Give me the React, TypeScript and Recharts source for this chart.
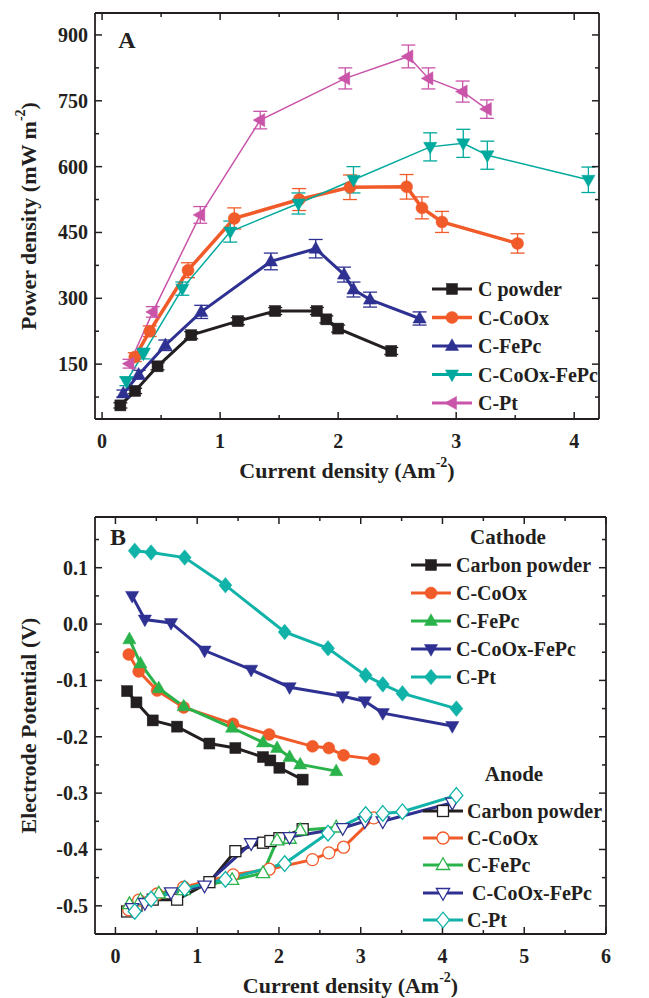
import React from 'react';
import { LineChart, Line, XAxis, YAxis, ErrorBar } from 'recharts';

const FONT = '"Liberation Serif", "Times New Roman", serif';
const INK = '#231f20';

// ---- Panel A: power density vs current density ----
const aPowderX = [0.155, 0.28, 0.47, 0.755, 1.15, 1.467, 1.82, 1.9, 2.0, 2.45];
const aPowderY = [56, 89, 145, 216, 248, 271, 271, 252, 231, 180];
const aPowderE = [6, 6, 8, 8, 8, 8, 8, 8, 8, 8];

const aCoOxX = [0.277, 0.404, 0.728, 1.12, 1.67, 2.1, 2.58, 2.71, 2.88, 3.52];
const aCoOxY = [166, 225, 364, 482, 525, 553, 554, 506, 474, 425];
const aCoOxE = [10, 12, 17, 24, 25, 28, 28, 25, 24, 22];

const aFePcX = [0.18, 0.31, 0.536, 0.84, 1.43, 1.81, 2.05, 2.13, 2.27, 2.69];
const aFePcY = [83, 126, 193, 269, 384, 413, 354, 320, 297, 254];
const aFePcE = [8, 10, 12, 15, 19, 21, 17, 17, 17, 15];

const aMixX = [0.206, 0.35, 0.68, 1.086, 1.664, 2.13, 2.78, 3.06, 3.264, 4.12];
const aMixY = [111, 174, 322, 452, 516, 570, 645, 653, 626, 570];
const aMixE = [10, 12, 15, 24, 24, 30, 32, 32, 32, 29];

const aPtX = [0.232, 0.43, 0.832, 1.34, 2.06, 2.595, 2.765, 3.055, 3.26];
const aPtY = [151, 269, 490, 706, 801, 851, 801, 771, 731];
const aPtE = [10, 12, 19, 20, 24, 26, 24, 24, 21];

const aXTicks = [0, 0.5, 1, 1.5, 2, 2.5, 3, 3.5, 4];
const aXMajor = [0, 1, 2, 3, 4];
const aYTicks = [75, 150, 225, 300, 375, 450, 525, 600, 675, 750, 825, 900];
const aYMajor = [150, 300, 450, 600, 750, 900];

// ---- Panel B: electrode potentials ----
const bPowderX = [0.143, 0.257, 0.456, 0.754, 1.149, 1.467, 1.805, 1.895, 2.005, 2.29];
const bPowderCat = [-0.119, -0.139, -0.171, -0.182, -0.212, -0.22, -0.236, -0.242, -0.255, -0.276];
const bPowderAn = [-0.51, -0.5, -0.489, -0.489, -0.458, -0.403, -0.388, -0.385, -0.38, -0.364];

const bCoOxX = [0.163, 0.285, 0.51, 0.835, 1.439, 1.88, 2.41, 2.61, 2.79, 3.16];
const bCoOxCat = [-0.054, -0.084, -0.118, -0.148, -0.177, -0.196, -0.217, -0.22, -0.233, -0.24];
const bCoOxAn = [-0.507, -0.49, -0.479, -0.467, -0.445, -0.435, -0.418, -0.406, -0.396, -0.344];

const bFePcX = [0.171, 0.306, 0.53, 0.835, 1.427, 1.805, 1.977, 2.13, 2.26, 2.7];
const bFePcCat = [-0.027, -0.07, -0.114, -0.146, -0.184, -0.21, -0.22, -0.236, -0.249, -0.261];
const bFePcAn = [-0.497, -0.49, -0.478, -0.472, -0.454, -0.442, -0.384, -0.381, -0.366, -0.361];

const bMixX = [0.204, 0.36, 0.68, 1.09, 1.66, 2.13, 2.78, 3.05, 3.27, 4.12];
const bMixCat = [0.05, 0.008, 0.002, -0.047, -0.081, -0.112, -0.128, -0.137, -0.158, -0.181];
const bMixAn = [-0.504, -0.495, -0.476, -0.464, -0.389, -0.378, -0.362, -0.35, -0.35, -0.317];

const bPtX = [0.236, 0.436, 0.847, 1.345, 2.07, 2.6, 3.06, 3.27, 3.51, 4.17];
const bPtCat = [0.13, 0.127, 0.118, 0.069, -0.014, -0.043, -0.091, -0.107, -0.123, -0.15];
const bPtAn = [-0.51, -0.488, -0.469, -0.453, -0.425, -0.371, -0.338, -0.336, -0.333, -0.304];

const bXTicks = [0, 0.5, 1, 1.5, 2, 2.5, 3, 3.5, 4, 4.5, 5, 5.5, 6];
const bXMajor = [0, 1, 2, 3, 4, 5, 6];
const bYTicks = [-0.5, -0.45, -0.4, -0.35, -0.3, -0.25, -0.2, -0.15, -0.1, -0.05, 0, 0.05, 0.1, 0.15];
const bYMajor = [-0.5, -0.4, -0.3, -0.2, -0.1, 0, 0.1];

const legendA = ['C powder', 'C-CoOx', 'C-FePc', 'C-CoOx-FePc', 'C-Pt'];
const legendCat = ['Carbon powder', 'C-CoOx', 'C-FePc', 'C-CoOx-FePc', 'C-Pt'];
const legendAn = ['Carbon powder', 'C-CoOx', 'C-FePc', ' C-CoOx-FePc', 'C-Pt'];

const pts = (xs: number[], ys: number[], es?: number[]) =>
  xs.map((x, i) => ({ x, y: ys[i], e: es ? es[i] : 0 }));

type Shape = 'square' | 'circle' | 'up' | 'down' | 'left' | 'diamond';

function Marker({ cx, cy, shape, size, fill, stroke, sw }: any) {
  if (cx == null || cy == null) return null;
  const r = size / 2;
  const common = { fill, stroke, strokeWidth: sw };
  if (shape === 'square') return <rect x={cx - r} y={cy - r} width={size} height={size} {...common} />;
  if (shape === 'circle') return <circle cx={cx} cy={cy} r={r} {...common} />;
  let p = '';
  if (shape === 'up') p = `${cx},${cy - r * 1.2} ${cx + r * 1.1},${cy + r * 0.75} ${cx - r * 1.1},${cy + r * 0.75}`;
  if (shape === 'down') p = `${cx},${cy + r * 1.2} ${cx + r * 1.1},${cy - r * 0.75} ${cx - r * 1.1},${cy - r * 0.75}`;
  if (shape === 'left') p = `${cx - r * 1.2},${cy} ${cx + r * 0.75},${cy - r * 1.1} ${cx + r * 0.75},${cy + r * 1.1}`;
  if (shape === 'diamond') p = `${cx},${cy - r * 1.2} ${cx + r},${cy} ${cx},${cy + r * 1.2} ${cx - r},${cy}`;
  return <polygon points={p} {...common} />;
}

type Series = {
  id: string;
  data: { x: number; y: number; e: number }[];
  color: string;
  shape: Shape;
  lw: number;
  size: number;
  open?: boolean;
  err?: boolean;
};

const BLACK = INK;
const ORANGE = '#f15a29';
const NAVY = '#2e3192';
const TEAL_A = '#00a99d';
const MAGENTA = '#c954a8';
const GREEN = '#2bb34b';
const TEAL_B = '#11b3a8';

const seriesA: Series[] = [
  { id: 'a1', data: pts(aPowderX, aPowderY, aPowderE), color: BLACK, shape: 'square', lw: 3, size: 11, err: true },
  { id: 'a2', data: pts(aCoOxX, aCoOxY, aCoOxE), color: ORANGE, shape: 'circle', lw: 3.5, size: 12, err: true },
  { id: 'a3', data: pts(aFePcX, aFePcY, aFePcE), color: NAVY, shape: 'up', lw: 3, size: 12, err: true },
  { id: 'a4', data: pts(aMixX, aMixY, aMixE), color: TEAL_A, shape: 'down', lw: 1.5, size: 12, err: true },
  { id: 'a5', data: pts(aPtX, aPtY, aPtE), color: MAGENTA, shape: 'left', lw: 1.5, size: 12, err: true },
];

const seriesB: Series[] = [
  { id: 'b1', data: pts(bPowderX, bPowderCat), color: BLACK, shape: 'square', lw: 3, size: 11 },
  { id: 'b2', data: pts(bCoOxX, bCoOxCat), color: ORANGE, shape: 'circle', lw: 3, size: 12 },
  { id: 'b3', data: pts(bFePcX, bFePcCat), color: GREEN, shape: 'up', lw: 3, size: 12 },
  { id: 'b4', data: pts(bMixX, bMixCat), color: NAVY, shape: 'down', lw: 3, size: 12 },
  { id: 'b5', data: pts(bPtX, bPtCat), color: TEAL_B, shape: 'diamond', lw: 3, size: 13 },
  { id: 'b6', data: pts(bPowderX, bPowderAn), color: BLACK, shape: 'square', lw: 3, size: 11, open: true },
  { id: 'b7', data: pts(bCoOxX, bCoOxAn), color: ORANGE, shape: 'circle', lw: 3, size: 12, open: true },
  { id: 'b8', data: pts(bFePcX, bFePcAn), color: GREEN, shape: 'up', lw: 3, size: 12, open: true },
  { id: 'b9', data: pts(bMixX, bMixAn), color: NAVY, shape: 'down', lw: 3, size: 12, open: true },
  { id: 'b10', data: pts(bPtX, bPtAn), color: TEAL_B, shape: 'diamond', lw: 3, size: 13, open: true },
];

const isMajor = (list: number[], v: number) => list.some((m) => Math.abs(m - v) < 1e-6);

function makeTick(side: 'bottom' | 'top' | 'left' | 'right', majors: number[], fmt?: (v: number) => string) {
  return (props: any) => {
    const { x, y, payload } = props;
    const v = payload.value;
    const major = isMajor(majors, v);
    const len = major ? 7 : 4;
    let line = null;
    let label = null;
    if (side === 'bottom') {
      line = <line x1={x} y1={y} x2={x} y2={y - len} stroke={INK} strokeWidth={1.5} />;
      if (major && fmt)
        label = (
          <text x={x} y={y + 22} textAnchor="middle" dominantBaseline="central" fontFamily={FONT} fontWeight="bold" fontSize={20} fill={INK}>
            {fmt(v)}
          </text>
        );
    } else if (side === 'top') {
      line = <line x1={x} y1={y} x2={x} y2={y + len} stroke={INK} strokeWidth={1.5} />;
    } else if (side === 'left') {
      line = <line x1={x} y1={y} x2={x + len} y2={y} stroke={INK} strokeWidth={1.5} />;
      if (major && fmt)
        label = (
          <text x={x - 7} y={y} textAnchor="end" dominantBaseline="central" fontFamily={FONT} fontWeight="bold" fontSize={20} fill={INK}>
            {fmt(v)}
          </text>
        );
    } else {
      line = <line x1={x} y1={y} x2={x - len} y2={y} stroke={INK} strokeWidth={1.5} />;
    }
    return (
      <g>
        {line}
        {label}
      </g>
    );
  };
}

function XTitle({ viewBox, dy }: any) {
  const cx = viewBox.x + viewBox.width / 2;
  return (
    <text x={cx} y={viewBox.y + dy} textAnchor="middle" dominantBaseline="central" fontFamily={FONT} fontWeight="bold" fontSize={22} fill={INK}>
      Current density (Am
      <tspan dy={-8} fontSize={14}>-2</tspan>
      <tspan dy={8}>)</tspan>
    </text>
  );
}

function YTitle({ viewBox, text, sup, x }: any) {
  const cy = viewBox.y + viewBox.height / 2;
  return (
    <text
      x={x}
      y={cy}
      transform={`rotate(-90 ${x} ${cy})`}
      textAnchor="middle"
      dominantBaseline="central"
      fontFamily={FONT}
      fontWeight="bold"
      fontSize={22}
      fill={INK}
    >
      {text}
      {sup ? (
        <>
          <tspan dy={-8} fontSize={14}>
            {sup}
          </tspan>
          <tspan dy={8}>)</tspan>
        </>
      ) : null}
    </text>
  );
}

type PanelProps = {
  top: number;
  height: number;
  topH: number;
  bottomH: number;
  rightW: number;
  xDomain: [number, number];
  yDomain: [number, number];
  xTicks: number[];
  xMajor: number[];
  yTicks: number[];
  yMajor: number[];
  yFmt: (v: number) => string;
  series: Series[];
  yTitle: string;
  ySup?: string;
};

function Panel(p: PanelProps) {
  const axisLine = { stroke: INK, strokeWidth: 1.8 };
  return (
    <div style={{ position: 'absolute', left: 0, top: p.top }}>
      <LineChart width={649} height={p.height} margin={{ top: 0, right: 0, bottom: 0, left: 0 }}>
        <XAxis
          type="number"
          dataKey="x"
          domain={p.xDomain}
          allowDataOverflow
          ticks={p.xTicks}
          interval={0}
          height={p.bottomH}
          tickSize={0}
          tickMargin={0}
          tickLine={false}
          axisLine={axisLine}
          tick={makeTick('bottom', p.xMajor, (v) => String(v))}
          label={{ content: (lp: any) => <XTitle viewBox={lp.viewBox} dy={51} /> }}
        />
        <XAxis
          xAxisId="top"
          orientation="top"
          type="number"
          dataKey="x"
          domain={p.xDomain}
          allowDataOverflow
          ticks={p.xTicks}
          interval={0}
          height={p.topH}
          tickSize={0}
          tickMargin={0}
          tickLine={false}
          axisLine={axisLine}
          tick={makeTick('top', p.xMajor)}
        />
        <YAxis
          type="number"
          domain={p.yDomain}
          allowDataOverflow
          ticks={p.yTicks}
          interval={0}
          width={95}
          tickSize={0}
          tickMargin={0}
          tickLine={false}
          axisLine={axisLine}
          tick={makeTick('left', p.yMajor, p.yFmt)}
          label={{ content: (lp: any) => <YTitle viewBox={lp.viewBox} text={p.yTitle} sup={p.ySup} x={28} /> }}
        />
        <YAxis
          yAxisId="right"
          orientation="right"
          type="number"
          domain={p.yDomain}
          allowDataOverflow
          ticks={p.yTicks}
          interval={0}
          width={p.rightW}
          tickSize={0}
          tickMargin={0}
          tickLine={false}
          axisLine={axisLine}
          tick={makeTick('right', p.yMajor)}
        />
        {p.series.map((s) => (
          <Line
            key={s.id}
            data={s.data}
            dataKey="y"
            type="linear"
            stroke={s.color}
            strokeWidth={s.lw}
            isAnimationActive={false}
            activeDot={false}
            dot={(dp: any) => (
              <Marker
                key={`${s.id}-${dp.index}`}
                cx={dp.cx}
                cy={dp.cy}
                shape={s.shape}
                size={s.size}
                fill={s.open ? '#ffffff' : s.color}
                stroke={s.color}
                sw={s.open ? 1.3 : 0.5}
              />
            )}
          >
            {s.err ? <ErrorBar dataKey="e" direction="y" width={7} stroke={s.color} strokeWidth={1.3} /> : null}
          </Line>
        ))}
      </LineChart>
    </div>
  );
}

function LegendRow({ x0, x1, y, text, s, tx }: any) {
  const mx = (x0 + x1) / 2;
  return (
    <g>
      <line x1={x0} y1={y} x2={x1} y2={y} stroke={s.color} strokeWidth={Math.max(s.lw, 3)} />
      <Marker cx={mx} cy={y} shape={s.shape} size={s.size} fill={s.open ? '#ffffff' : s.color} stroke={s.color} sw={s.open ? 1.3 : 0.5} />
      <text x={tx} y={y} dominantBaseline="central" fontFamily={FONT} fontWeight="bold" fontSize={20} fill={INK} style={{ whiteSpace: 'pre' }}>
        {text}
      </text>
    </g>
  );
}

function Overlay() {
  const aRows = [289, 317.5, 346, 374.5, 403];
  const catRows = [565, 593, 621, 649, 677];
  const anRows = [811, 838, 865, 893, 920];
  return (
    <svg width={649} height={998} style={{ position: 'absolute', left: 0, top: 0, pointerEvents: 'none' }}>
      <text x={127} y={40} textAnchor="middle" dominantBaseline="central" fontFamily={FONT} fontWeight="bold" fontSize={24} fill={INK}>
        A
      </text>
      <text x={118} y={537} textAnchor="middle" dominantBaseline="central" fontFamily={FONT} fontWeight="bold" fontSize={24} fill={INK}>
        B
      </text>
      {legendA.map((t, i) => (
        <LegendRow key={t} x0={432} x1={472} y={aRows[i]} text={t} s={seriesA[i]} tx={478} />
      ))}
      <text x={508} y={537} textAnchor="middle" dominantBaseline="central" fontFamily={FONT} fontWeight="bold" fontSize={21} fill={INK}>
        Cathode
      </text>
      {legendCat.map((t, i) => (
        <LegendRow key={'c' + t} x0={411} x1={451} y={catRows[i]} text={t} s={seriesB[i]} tx={456} />
      ))}
      <text x={514} y={774} textAnchor="middle" dominantBaseline="central" fontFamily={FONT} fontWeight="bold" fontSize={21} fill={INK}>
        Anode
      </text>
      {legendAn.map((t, i) => (
        <LegendRow key={'n' + t} x0={423} x1={463} y={anRows[i]} text={t} s={seriesB[i + 5]} tx={467} />
      ))}
    </svg>
  );
}

export default function App() {
  return (
    <div style={{ position: 'absolute', left: 0, top: 0, width: 649, height: 998, background: '#ffffff' }}>
      <Panel
        top={0}
        height={490}
        topH={13}
        bottomH={71}
        rightW={50}
        xDomain={[-0.06, 4.21]}
        yDomain={[25, 950]}
        xTicks={aXTicks}
        xMajor={aXMajor}
        yTicks={aYTicks}
        yMajor={aYMajor}
        yFmt={(v) => String(v)}
        series={seriesA}
        yTitle="Power density (mW m"
        ySup="-2"
      />
      <Panel
        top={490}
        height={508}
        topH={27}
        bottomH={64}
        rightW={43}
        xDomain={[-0.25, 6]}
        yDomain={[-0.55, 0.19]}
        xTicks={bXTicks}
        xMajor={bXMajor}
        yTicks={bYTicks}
        yMajor={bYMajor}
        yFmt={(v) => v.toFixed(1)}
        series={seriesB}
        yTitle="Electrode Potential (V)"
      />
      <Overlay />
    </div>
  );
}
